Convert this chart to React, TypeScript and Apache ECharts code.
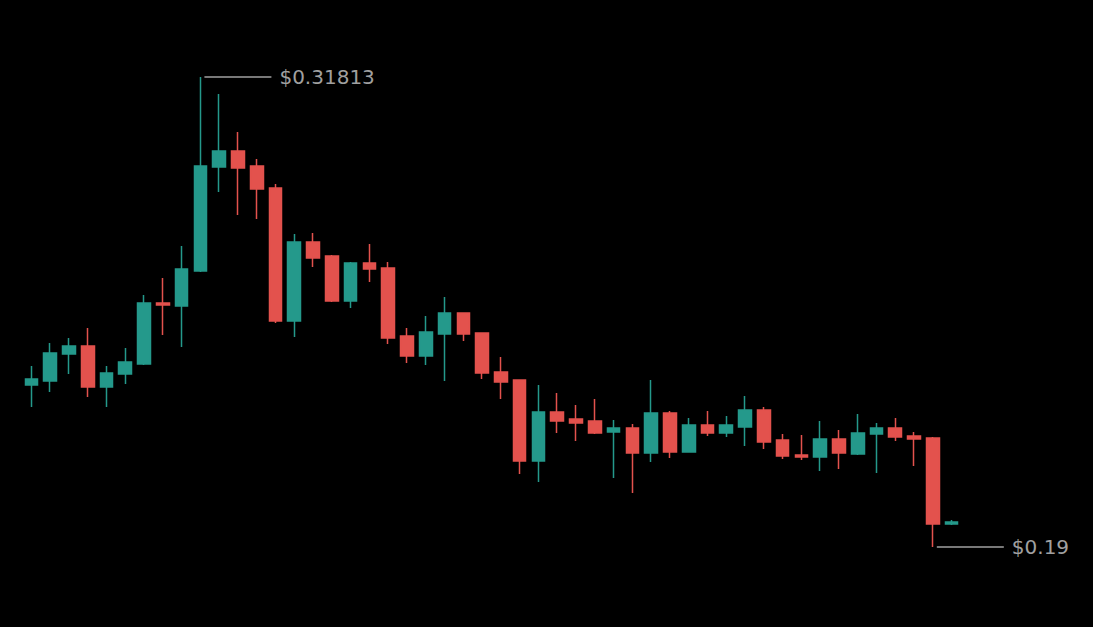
import { useEffect, useRef } from 'react'
import * as echarts from 'echarts'

const UP = '#24998b'
const DOWN = '#e3524d'
const LABEL = '#a0a0a0'

const opens = [
  0.23416, 0.23525, 0.24262, 0.24480, 0.23362, 0.23716, 0.23989, 0.25652, 0.25570, 0.26524,
  0.29360, 0.29796, 0.29387, 0.28787, 0.25161, 0.27315, 0.26933, 0.25706, 0.26742, 0.26606,
  0.24752, 0.24207, 0.24807, 0.25379, 0.24834, 0.23771, 0.23553, 0.21345, 0.22680, 0.22490,
  0.22435, 0.22135, 0.22244, 0.21563, 0.22653, 0.21590, 0.22326, 0.22108, 0.22271, 0.22735,
  0.21917, 0.21508, 0.21454, 0.21944, 0.21535, 0.22081, 0.22244, 0.22026, 0.21972, 0.19627
]
const closes = [
  0.23580, 0.24289, 0.24480, 0.23362, 0.23744, 0.24043, 0.25652, 0.25597, 0.26579, 0.29387,
  0.29796, 0.29332, 0.28760, 0.25161, 0.27315, 0.26879, 0.25706, 0.26742, 0.26579, 0.24698,
  0.24207, 0.24861, 0.25379, 0.24807, 0.23744, 0.23498, 0.21345, 0.22680, 0.22435, 0.22380,
  0.22108, 0.22244, 0.21563, 0.22653, 0.21590, 0.22326, 0.22108, 0.22326, 0.22735, 0.21863,
  0.21481, 0.21454, 0.21944, 0.21563, 0.22108, 0.22244, 0.21999, 0.21944, 0.19627, 0.19682
]
const lows = [
  0.22817, 0.23226, 0.23716, 0.23089, 0.22817, 0.23444, 0.23962, 0.24779, 0.24452, 0.26497,
  0.28678, 0.28051, 0.27942, 0.25107, 0.24725, 0.26633, 0.25679, 0.25516, 0.26224, 0.24534,
  0.24016, 0.23962, 0.23525, 0.24616, 0.23580, 0.23035, 0.20990, 0.20772, 0.22108, 0.21890,
  0.22081, 0.20881, 0.20472, 0.21317, 0.21426, 0.21580, 0.22026, 0.21999, 0.21754, 0.21672,
  0.21399, 0.21372, 0.21072, 0.21126, 0.21508, 0.21017, 0.21890, 0.21208, 0.19000, 0.19600
]
const highs = [
  0.23934, 0.24561, 0.24698, 0.24970, 0.23934, 0.24425, 0.25870, 0.26333, 0.27206, 0.31813,
  0.31350, 0.30314, 0.29578, 0.28896, 0.27533, 0.27560, 0.26960, 0.26770, 0.27260, 0.26770,
  0.24970, 0.25298, 0.25816, 0.25390, 0.24845, 0.24180, 0.23565, 0.23416, 0.23198, 0.22871,
  0.23035, 0.22462, 0.22353, 0.23553, 0.22708, 0.22517, 0.22708, 0.22571, 0.23117, 0.22817,
  0.22081, 0.22053, 0.22435, 0.22190, 0.22626, 0.22380, 0.22517, 0.22135, 0.21999, 0.19736
]
const categories = opens.map((_, i) => `${i + 1}`)

export default function App() {
  const chartRef = useRef<HTMLDivElement>(null)

  useEffect(() => {
    if (!chartRef.current) return
    const chart = echarts.init(chartRef.current, undefined, { renderer: 'svg' })

    const candles = opens.map((o, i) => [o, closes[i], lows[i], highs[i]])
    const maxVal = Math.max(...highs)
    const minVal = Math.min(...lows)
    const maxIdx = highs.indexOf(maxVal)
    const minIdx = lows.indexOf(minVal)

    chart.setOption({
      animation: false,
      backgroundColor: '#000000',
      grid: { left: 22, right: 132, top: 77, bottom: 80 },
      xAxis: {
        type: 'category',
        data: categories,
        boundaryGap: true,
        show: false
      },
      yAxis: {
        type: 'value',
        min: minVal,
        max: maxVal,
        show: false,
        splitLine: { show: false }
      },
      series: [
        {
          type: 'candlestick',
          barWidth: '70%',
          itemStyle: {
            color: UP,
            color0: DOWN,
            borderColor: UP,
            borderColor0: DOWN,
            borderWidth: 1.5
          },
          data: candles
        }
      ]
    })

    // price tags next to the highest high and the lowest low
    const hi = chart.convertToPixel({ gridIndex: 0 }, [maxIdx, maxVal]) as number[]
    const lo = chart.convertToPixel({ gridIndex: 0 }, [minIdx, minVal]) as number[]
    const tag = (p: number[], text: string) => [
      {
        type: 'line',
        shape: { x1: p[0] + 4, y1: p[1], x2: p[0] + 71, y2: p[1] },
        style: { stroke: LABEL, lineWidth: 1.5 }
      },
      {
        type: 'text',
        x: p[0] + 79,
        y: p[1],
        style: {
          text,
          fill: LABEL,
          font: '20px "DejaVu Sans", sans-serif',
          textVerticalAlign: 'middle'
        }
      }
    ]
    chart.setOption({
      graphic: [...tag(hi, `$${maxVal}`), ...tag(lo, `$${minVal}`)]
    })

    return () => chart.dispose()
  }, [])

  return (
    <div
      ref={chartRef}
      style={{ position: 'fixed', left: 0, top: 0, width: 1093, height: 627, background: '#000' }}
    />
  )
}
